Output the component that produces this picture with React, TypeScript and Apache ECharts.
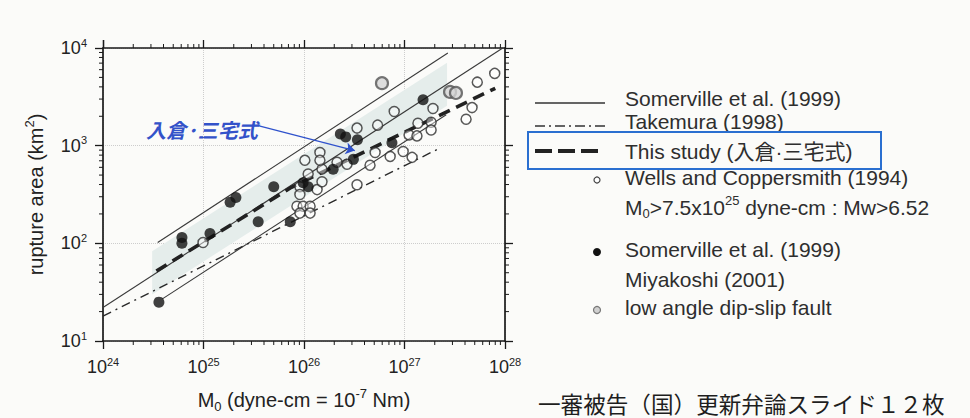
import React, { useEffect, useRef } from 'react';
import * as echarts from 'echarts';

// ---- axis ticks ----
const xDecades = [1e24, 1e25, 1e26, 1e27];
const yDecades = [1e1, 1e2, 1e3];
const minorMultipliers = [2, 3, 4, 5, 6, 7, 8, 9];

// ---- regression lines (endpoints) ----
const somervilleFit = [[1e24, 22], [9.5e27, 1e4]];
const somervilleUpper = [[3.5e24, 102], [2.7e27, 8900]];
const somervilleLower = [[3.9e24, 27], [2.6e27, 2075]];
const takemuraLine = [[1e24, 18], [2.1e27, 912]];
const thisStudyLine = [[3.4e24, 52], [7.5e25, 375], [8e27, 3870]];
const bandCorners = [[3.08e24, 83], [2.65e27, 7080], [2.65e27, 2570], [3.08e24, 30]];
const arrowFrom = [3.65e25, 1585];
const arrowTo = [3.2e26, 890];

// ---- data points ----
const wellsCoppersmith = [
  [9.9e24, 102], [8.5e25, 240], [9.8e25, 240], [1.15e26, 240], [9.1e25, 204], [1.15e26, 204],
  [9.1e25, 380], [9.1e25, 316], [1.35e26, 355], [1.51e26, 427], [1.1e26, 513], [1.51e26, 575],
  [1.44e26, 851], [1.44e26, 708], [1.02e26, 708], [2.13e26, 676], [2.68e26, 646], [3.37e26, 1514],
  [3.37e26, 398], [4.54e26, 631], [5.1e26, 851], [5.4e26, 1622], [7.2e26, 776], [7.9e26, 2239],
  [9.7e26, 871], [1.19e27, 759], [1.11e27, 1288], [1.33e27, 1259], [1.36e27, 1698], [1.84e27, 1738],
  [1.84e27, 1445], [1.92e27, 2399], [4.1e27, 1862], [4.7e27, 2455], [5.3e27, 4467], [7.9e27, 5495],
];
const somervilleMiyakoshi = [
  [3.6e24, 25], [6.1e24, 115], [6.1e24, 100], [1.16e25, 126], [1.84e25, 263], [2.1e25, 295],
  [3.5e25, 166], [7.3e25, 166], [5.0e25, 380], [9.8e25, 417], [1.1e26, 380], [1.95e26, 575],
  [3.1e26, 724], [2.3e26, 1318], [2.6e26, 1230], [3.4e26, 1148], [7.5e26, 1072], [1.53e27, 2951],
];
const lowAngle = [[5.97e26, 4365], [2.84e27, 3548], [3.25e27, 3467]];

const FONT = "'Liberation Sans', Arial, 'Noto Sans CJK JP', sans-serif";
const CJK = "'Noto Sans CJK JP', sans-serif";
const INK = '#1a1a1a';
const TXT = '#2e2e2e';

export default function App() {
  const ref = useRef<HTMLDivElement>(null);
  useEffect(() => {
    const chart = echarts.init(ref.current!, null, { renderer: 'svg' });
    const tickLabel = (v: number) => `{b|10}{s|${Math.round(Math.log10(v))}}`;
    const labelRich = {
      b: { fontSize: 18, lineHeight: 22, fontFamily: FONT, color: '#222' },
      s: { fontSize: 11, lineHeight: 12, fontFamily: FONT, color: '#222', verticalAlign: 'top' },
    };
    const nameRich = {
      a: { fontSize: 20, lineHeight: 26, fontFamily: FONT, color: '#222' },
      sub: { fontSize: 13, lineHeight: 12, fontFamily: FONT, color: '#222', verticalAlign: 'bottom' },
      sup: { fontSize: 13, lineHeight: 13, fontFamily: FONT, color: '#222', verticalAlign: 'top' },
    };
    const axisLine = { show: true, onZero: false, lineStyle: { color: INK, width: 1.7 } };
    const axisTick = { show: true, inside: false, length: 8, lineStyle: { color: INK, width: 1.3 } };
    const split = { show: true, lineStyle: { color: '#cdcdcd', type: 'dotted', width: 1 } };

    const minorX = xDecades.flatMap((d) => minorMultipliers.map((m) => [m * d, 10]));
    const minorY = yDecades.flatMap((d) => minorMultipliers.map((m) => [1e24, m * d]));

    const legendText = (text: string, y: number, extra: any = {}) => ({
      type: 'text', x: 625, y,
      style: { text, fontSize: 21, fontFamily: FONT, fill: TXT, verticalAlign: 'middle', align: 'left', ...extra },
    });

    const option: any = {
      animation: false,
      backgroundColor: '#fbfbf9',
      grid: { left: 103, right: 465, top: 48, bottom: 70, containLabel: false },
      xAxis: [
        {
          type: 'log', logBase: 10, min: 1e24, max: 1e28, splitNumber: 4, position: 'bottom',
          axisLine, axisTick,
          axisLabel: { formatter: tickLabel, rich: labelRich, margin: 15, showMinLabel: true, showMaxLabel: true, hideOverlap: false },
          splitLine: split, minorTick: { show: false }, minorSplitLine: { show: false },
          name: '{a|M}{sub|0}{a| (dyne-cm = 10}{sup|-7}{a| Nm)}',
          nameLocation: 'middle', nameGap: 46, nameTextStyle: { rich: nameRich },
        },
        {
          type: 'log', logBase: 10, min: 1e24, max: 1e28, splitNumber: 4, position: 'top',
          axisLine, axisTick, axisLabel: { show: false }, splitLine: { show: false },
        },
      ],
      yAxis: [
        {
          type: 'log', logBase: 10, min: 10, max: 1e4, splitNumber: 3, position: 'left',
          axisLine, axisTick,
          axisLabel: { formatter: tickLabel, rich: labelRich, margin: 16, showMinLabel: true, showMaxLabel: true, hideOverlap: false },
          splitLine: split,
          name: '{a|rupture area (km}{sup|2}{a|)}',
          nameLocation: 'middle', nameGap: 54, nameTextStyle: { rich: nameRich },
        },
        {
          type: 'log', logBase: 10, min: 10, max: 1e4, splitNumber: 3, position: 'right',
          axisLine, axisTick, axisLabel: { show: false }, splitLine: { show: false },
        },
      ],
      series: [
        {
          type: 'custom', name: 'band', silent: true, z: 1,
          data: [bandCorners[0]],
          renderItem: (_p: any, api: any) => ({
            type: 'polygon',
            shape: { points: bandCorners.map((c) => api.coord(c)) },
            style: { fill: '#e5edeb' },
          }),
        },
        {
          type: 'line', name: 'Somerville fit', data: somervilleFit, symbol: 'none', silent: true, z: 3,
          lineStyle: { color: '#3a3a3a', width: 1.1 },
        },
        {
          type: 'line', name: 'Somerville upper', data: somervilleUpper, symbol: 'none', silent: true, z: 3,
          lineStyle: { color: '#3a3a3a', width: 1.1 },
        },
        {
          type: 'line', name: 'Somerville lower', data: somervilleLower, symbol: 'none', silent: true, z: 3,
          lineStyle: { color: '#3a3a3a', width: 1.1 },
        },
        {
          type: 'line', name: 'Takemura (1998)', data: takemuraLine, symbol: 'none', silent: true, z: 3,
          lineStyle: { color: '#2a2a2a', width: 1.4, type: [9, 5, 2, 5] },
        },
        {
          type: 'line', name: 'This study', data: thisStudyLine, symbol: 'none', silent: true, z: 4,
          lineStyle: { color: '#222', width: 3.6, type: [12, 7] },
          markLine: {
            silent: true, symbol: ['none', 'arrow'], symbolSize: 9, label: { show: false },
            lineStyle: { color: '#2f52cc', width: 1.3, type: 'solid' },
            data: [[{ coord: arrowFrom }, { coord: arrowTo }]],
          },
        },
        {
          type: 'scatter', name: 'Wells and Coppersmith (1994)', data: wellsCoppersmith, symbol: 'circle',
          symbolSize: 10, silent: true, z: 5,
          itemStyle: { color: 'rgba(255,255,255,0.55)', borderColor: '#2e2e2e', borderWidth: 1.5 },
        },
        {
          type: 'scatter', name: 'low angle dip-slip fault', data: lowAngle, symbol: 'circle',
          symbolSize: 12, silent: true, z: 5,
          itemStyle: { color: '#d6d6d6', borderColor: '#555', borderWidth: 2.2 },
        },
        {
          type: 'scatter', name: 'Somerville / Miyakoshi', data: somervilleMiyakoshi, symbol: 'circle',
          symbolSize: 11, silent: true, z: 6,
          itemStyle: { color: '#111' },
        },
        {
          type: 'custom', name: 'minorX', silent: true, clip: false, z: 7,
          data: minorX,
          renderItem: (_p: any, api: any) => {
            const v = api.value(0);
            const b = api.coord([v, 10]);
            const t = api.coord([v, 1e4]);
            return {
              type: 'group',
              children: [
                { type: 'line', shape: { x1: b[0], y1: b[1], x2: b[0], y2: b[1] + 4 }, style: { stroke: INK, lineWidth: 1 } },
                { type: 'line', shape: { x1: t[0], y1: t[1], x2: t[0], y2: t[1] - 4 }, style: { stroke: INK, lineWidth: 1 } },
              ],
            };
          },
        },
        {
          type: 'custom', name: 'minorY', silent: true, clip: false, z: 7,
          data: minorY,
          renderItem: (_p: any, api: any) => {
            const v = api.value(1);
            const l = api.coord([1e24, v]);
            const r = api.coord([1e28, v]);
            return {
              type: 'group',
              children: [
                { type: 'line', shape: { x1: l[0], y1: l[1], x2: l[0] - 4, y2: l[1] }, style: { stroke: INK, lineWidth: 1 } },
                { type: 'line', shape: { x1: r[0], y1: r[1], x2: r[0] + 4, y2: r[1] }, style: { stroke: INK, lineWidth: 1 } },
              ],
            };
          },
        },
      ],
      graphic: [
        // annotation label
        {
          type: 'text', x: 146, y: 129,
          style: {
            text: '入倉·三宅式', fontSize: 20, fontWeight: 'bold', fontStyle: 'italic',
            fontFamily: CJK, fill: '#3352c9', verticalAlign: 'middle', align: 'left',
          },
        },
        // legend line samples
        { type: 'line', shape: { x1: 535, y1: 103, x2: 605, y2: 103 }, style: { stroke: '#333', lineWidth: 1.3 } },
        { type: 'line', shape: { x1: 535, y1: 126, x2: 605, y2: 126 }, style: { stroke: '#333', lineWidth: 1.4, lineDash: [10, 4, 2, 4] } },
        { type: 'line', shape: { x1: 535, y1: 151, x2: 604, y2: 151 }, style: { stroke: '#222', lineWidth: 4, lineDash: [17, 6] } },
        legendText('Somerville et al. (1999)', 98),
        legendText('Takemura (1998)', 121),
        legendText('This study (入倉·三宅式)', 151),
        legendText('Wells and Coppersmith (1994)', 177),
        {
          type: 'text', x: 625, y: 207,
          style: {
            text: '{a|M}{sub|0}{a|>7.5x10}{sup|25}{a| dyne-cm : Mw>6.52}',
            verticalAlign: 'middle', align: 'left',
            rich: {
              a: { fontSize: 21, lineHeight: 26, fontFamily: FONT, fill: TXT, color: TXT },
              sub: { fontSize: 13, lineHeight: 12, fontFamily: FONT, fill: TXT, color: TXT, verticalAlign: 'bottom' },
              sup: { fontSize: 13, lineHeight: 13, fontFamily: FONT, fill: TXT, color: TXT, verticalAlign: 'top' },
            },
          },
        },
        legendText('Somerville et al. (1999)', 249),
        legendText('Miyakoshi (2001)', 279),
        legendText('low angle dip-slip fault', 307),
        // legend markers
        { type: 'circle', shape: { cx: 597, cy: 180, r: 3 }, style: { fill: '#fff', stroke: '#444', lineWidth: 1.2 } },
        { type: 'circle', shape: { cx: 597, cy: 252, r: 4 }, style: { fill: '#111' } },
        { type: 'circle', shape: { cx: 597, cy: 310, r: 3.5 }, style: { fill: '#d0d0d0', stroke: '#777', lineWidth: 1.2 } },
        // highlight box
        { type: 'rect', shape: { x: 528, y: 132, width: 353, height: 37 }, style: { fill: 'none', stroke: '#2a6fd0', lineWidth: 2 } },
        // caption
        {
          type: 'text', x: 538, y: 403,
          style: {
            text: '一審被告（国）更新弁論スライド１２枚', fontSize: 22.6, fontFamily: CJK, fill: '#1e1e1e',
            verticalAlign: 'middle', align: 'left',
          },
        },
      ],
    };
    chart.setOption(option);
    return () => chart.dispose();
  }, []);
  return (
    <div
      ref={ref}
      style={{ position: 'fixed', left: 0, top: 0, width: 970, height: 418, background: '#fbfbf9' }}
    />
  );
}
